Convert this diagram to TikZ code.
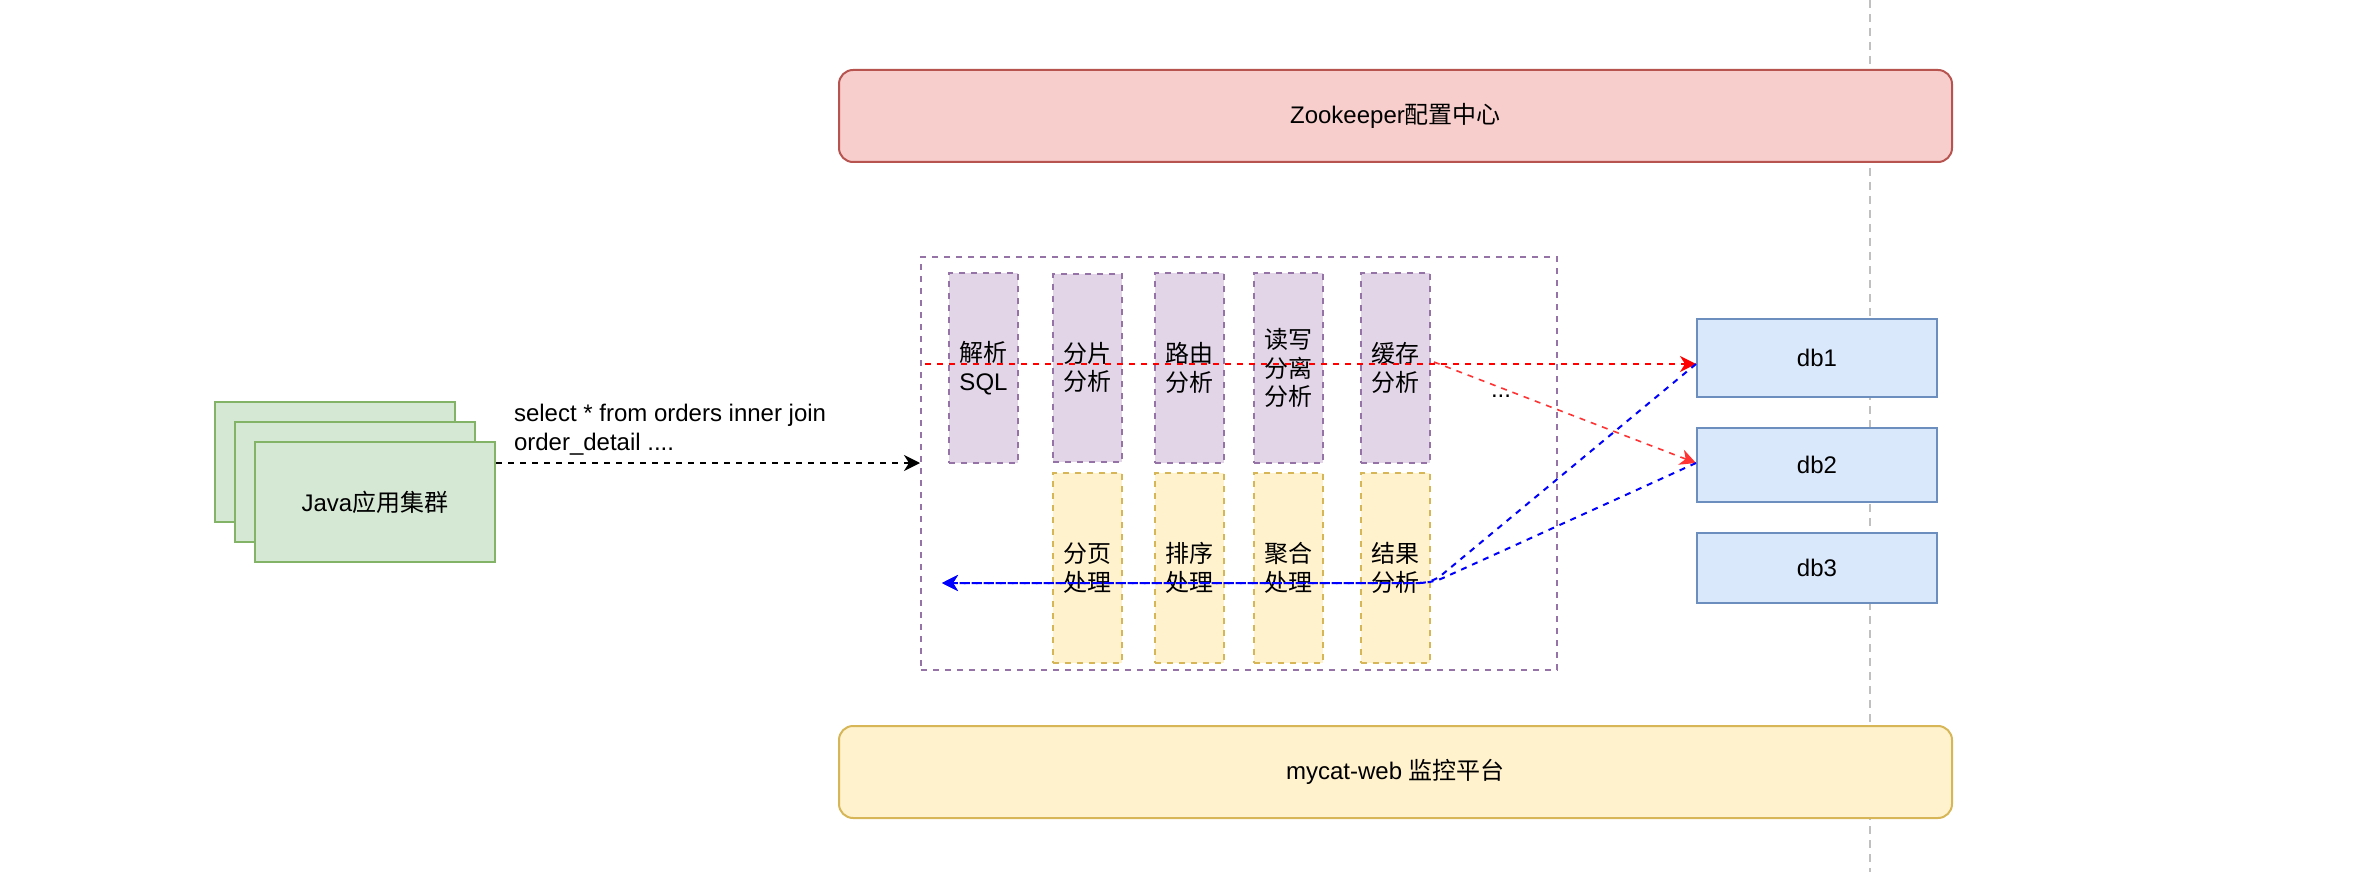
\documentclass[tikz,border=0pt]{standalone}
\usepackage{fontspec}
\setmainfont{Liberation Sans}
\newfontfamily\cjk{Noto Sans CJK SC}
\usetikzlibrary{arrows.meta}
\definecolor{purpf}{HTML}{E1D5E7}
\definecolor{purpd}{HTML}{9673A6}
\definecolor{yelf}{HTML}{FFF2CC}
\definecolor{yeld}{HTML}{D6B656}
\definecolor{bluf}{HTML}{DAE8FC}
\definecolor{blud}{HTML}{6C8EBF}
\definecolor{grnf}{HTML}{D5E8D4}
\definecolor{grnd}{HTML}{82B366}
\definecolor{redf}{HTML}{F8CECC}
\definecolor{redd}{HTML}{B85450}
\definecolor{lred}{HTML}{FF3333}
\definecolor{gline}{HTML}{C0C0C0}
\tikzset{
  base/.style={inner sep=0pt, align=center, font=\fontsize{12}{14.4}\selectfont, line width=1pt},
  bar/.style={base, rounded corners=7pt, minimum width=556.5pt, minimum height=46pt},
  purcol/.style={base, draw=purpd, fill=purpf, dash pattern=on 3pt off 3pt, minimum width=34.5pt, minimum height=95pt},
  yelcol/.style={base, draw=yeld, fill=yelf, dash pattern=on 3pt off 3pt, minimum width=34.5pt, minimum height=95pt},
  dbbox/.style={base, draw=blud, fill=bluf, minimum width=120pt},
  javabox/.style={base, draw=grnd, fill=grnf, minimum width=120pt, minimum height=60pt},
  tip/.style={-{Stealth[length=8pt,width=8pt,inset=2.5pt]}},
  dsh/.style={dash pattern=on 3pt off 3pt, line width=1pt},
}
\newcommand{\zh}[1]{{\cjk #1}}
\begin{document}
\begin{tikzpicture}[x=0.5pt,y=-0.5pt]
\useasboundingbox (0,0) rectangle (2358,872);
% gray vertical dashed line
\coordinate (gtop) at (1870,0);
\coordinate (gbot) at (1870,872);
\draw[gline, line width=1pt, dash pattern=on 4pt off 3pt] (gtop) -- (gbot);
% bars
\node[bar, draw=redd, fill=redf] (zk) at (1395.5,116) {Zookeeper\zh{配置中心}};
\node[bar, draw=yeld, fill=yelf] (web) at (1395.5,772) {mycat-web \zh{监控平台}};
% outer container
\node[base, draw=purpd, dash pattern=on 3pt off 3pt, minimum width=318pt, minimum height=206.5pt] (outer) at (1239,463.5) {};
% purple columns
\node[purcol] (sql) at (983.5,368) {\zh{解析}\\SQL};
\node[purcol, minimum height=94pt] (shard) at (1087.5,367.5) {\zh{分片}\\\zh{分析}};
\node[purcol] (route) at (1189.5,368) {\zh{路由}\\\zh{分析}};
\node[purcol] (rw) at (1288.5,368) {\zh{读写}\\\zh{分离}\\\zh{分析}};
\node[purcol] (cache) at (1395.5,368) {\zh{缓存}\\\zh{分析}};
% yellow columns
\node[yelcol] (page) at (1087.5,568) {\zh{分页}\\\zh{处理}};
\node[yelcol] (sort) at (1189.5,568) {\zh{排序}\\\zh{处理}};
\node[yelcol] (agg) at (1288.5,568) {\zh{聚合}\\\zh{处理}};
\node[yelcol] (res) at (1395.5,568) {\zh{结果}\\\zh{分析}};
\node[base] (dots) at (1501,396) {...};
% db boxes
\node[dbbox, minimum height=39pt] (db1) at (1817,358) {db1};
\node[dbbox, minimum height=37pt] (db2) at (1817,465) {db2};
\node[dbbox, minimum height=35pt] (db3) at (1817,568) {db3};
% java stacked
\node[javabox] (j1) at (335,462) {};
\node[javabox] (j2) at (355,482) {};
\node[javabox] (j3) at (375,502) {Java\zh{应用集群}};
\node[base, align=left, anchor=north west] (sqltext) at (513,403) {select * from orders inner join\\order\_detail ....};
% connectors
\draw[dsh, tip, black] (j3.east |- 0,463) -- (outer.west |- 0,463);
\coordinate (rstart) at (925,364);
\coordinate (rsplit) at (1434,362);
\draw[dsh, tip, red] (rstart) -- (db1.west |- 0,364);
\draw[lred, line width=0.8pt, dash pattern=on 3pt off 3pt, tip] (rsplit) -- (db2.west |- 0,463);
\coordinate (bend) at (942,583);
\coordinate (bmid) at (1432,583);
\draw[dsh, blue, tip, rounded corners=6pt] (db1.west |- 0,364) -- (bmid) -- (bend);
\draw[dsh, blue, tip, rounded corners=6pt] (db2.west |- 0,463) -- (bmid) -- (bend);
\end{tikzpicture}
\end{document}
